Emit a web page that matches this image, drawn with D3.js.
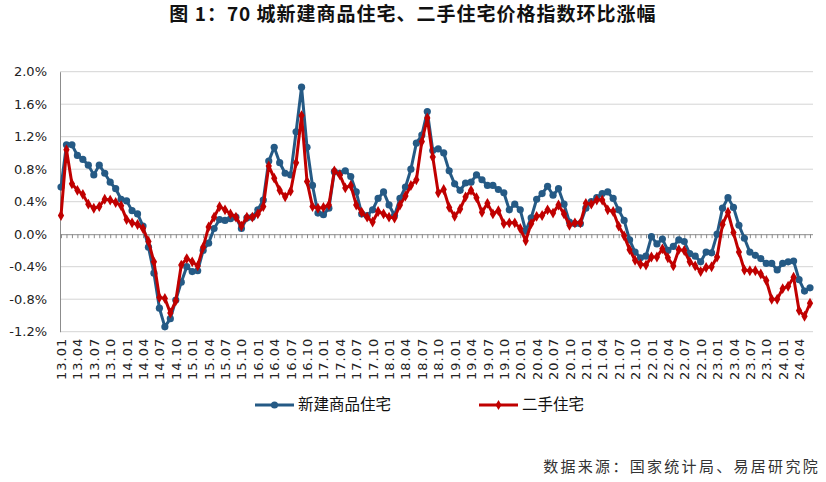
<!DOCTYPE html>
<html lang="zh">
<head>
<meta charset="UTF-8">
<title>70城新建商品住宅、二手住宅价格指数环比涨幅</title>
<script src="https://d3js.org/d3.v7.min.js"></script>
<style>
  body { margin: 0; background: #fff; }
  svg { display: block; }
</style>
</head>
<body>
<svg width="826" height="482"></svg>
<script>
// months 2013.01 - 2024.06
const months = [
  "13.01","13.02","13.03","13.04","13.05","13.06","13.07","13.08","13.09","13.10","13.11","13.12",
  "14.01","14.02","14.03","14.04","14.05","14.06","14.07","14.08","14.09","14.10","14.11","14.12",
  "15.01","15.02","15.03","15.04","15.05","15.06","15.07","15.08","15.09","15.10","15.11","15.12",
  "16.01","16.02","16.03","16.04","16.05","16.06","16.07","16.08","16.09","16.10","16.11","16.12",
  "17.01","17.02","17.03","17.04","17.05","17.06","17.07","17.08","17.09","17.10","17.11","17.12",
  "18.01","18.02","18.03","18.04","18.05","18.06","18.07","18.08","18.09","18.10","18.11","18.12",
  "19.01","19.02","19.03","19.04","19.05","19.06","19.07","19.08","19.09","19.10","19.11","19.12",
  "20.01","20.02","20.03","20.04","20.05","20.06","20.07","20.08","20.09","20.10","20.11","20.12",
  "21.01","21.02","21.03","21.04","21.05","21.06","21.07","21.08","21.09","21.10","21.11","21.12",
  "22.01","22.02","22.03","22.04","22.05","22.06","22.07","22.08","22.09","22.10","22.11","22.12",
  "23.01","23.02","23.03","23.04","23.05","23.06","23.07","23.08","23.09","23.10","23.11","23.12",
  "24.01","24.02","24.03","24.04","24.05","24.06"
];

// 新建商品住宅 环比 (%)
const newHome = [
  0.58, 1.10, 1.10, 0.97, 0.92, 0.85, 0.73, 0.85, 0.75, 0.64, 0.56, 0.43,
  0.41, 0.29, 0.25, 0.10, -0.16, -0.48, -0.91, -1.14, -1.04, -0.81, -0.59, -0.40,
  -0.46, -0.45, -0.20, -0.11, 0.07, 0.18, 0.17, 0.19, 0.21, 0.07, 0.20, 0.21,
  0.30, 0.42, 0.90, 1.07, 0.88, 0.75, 0.73, 1.26, 1.81, 1.07, 0.60, 0.26,
  0.24, 0.32, 0.77, 0.75, 0.78, 0.71, 0.52, 0.25, 0.23, 0.30, 0.44, 0.52,
  0.36, 0.23, 0.44, 0.58, 0.80, 1.12, 1.22, 1.51, 1.03, 1.05, 1.00, 0.78,
  0.62, 0.54, 0.63, 0.64, 0.73, 0.67, 0.60, 0.60, 0.55, 0.51, 0.30, 0.37,
  0.30, 0.04, 0.20, 0.43, 0.50, 0.59, 0.48, 0.56, 0.37, 0.15, 0.13, 0.13,
  0.32, 0.40, 0.45, 0.50, 0.52, 0.44, 0.30, 0.17, -0.07, -0.22, -0.29, -0.27,
  -0.03, -0.12, -0.06, -0.20, -0.15, -0.07, -0.09, -0.24, -0.27, -0.34, -0.22, -0.23,
  0.00, 0.32, 0.45, 0.33, 0.11, -0.05, -0.22, -0.26, -0.30, -0.36, -0.36, -0.44,
  -0.36, -0.34, -0.33, -0.56, -0.70, -0.66
];

// 二手住宅 环比 (%)
const usedHome = [
  0.23, 1.04, 0.62, 0.54, 0.49, 0.37, 0.32, 0.34, 0.43, 0.42, 0.39, 0.35,
  0.18, 0.14, 0.12, 0.07, -0.09, -0.34, -0.78, -0.79, -0.97, -0.82, -0.38, -0.30,
  -0.34, -0.39, -0.16, 0.09, 0.21, 0.34, 0.30, 0.25, 0.21, 0.10, 0.21, 0.21,
  0.25, 0.34, 0.84, 0.69, 0.54, 0.46, 0.53, 0.88, 1.46, 0.65, 0.34, 0.32,
  0.33, 0.36, 0.78, 0.73, 0.57, 0.60, 0.36, 0.27, 0.21, 0.15, 0.28, 0.25,
  0.21, 0.20, 0.36, 0.47, 0.60, 0.67, 1.14, 1.43, 0.95, 0.51, 0.55, 0.33,
  0.22, 0.31, 0.46, 0.54, 0.45, 0.27, 0.38, 0.25, 0.29, 0.13, 0.14, 0.14,
  0.07, -0.08, 0.13, 0.22, 0.23, 0.30, 0.26, 0.36, 0.25, 0.11, 0.14, 0.14,
  0.38, 0.37, 0.42, 0.42, 0.30, 0.28, 0.10, -0.02, -0.19, -0.32, -0.37, -0.38,
  -0.28, -0.28, -0.18, -0.29, -0.39, -0.19, -0.20, -0.34, -0.39, -0.46, -0.41, -0.40,
  -0.28, 0.12, 0.27, 0.02, -0.22, -0.44, -0.45, -0.45, -0.49, -0.57, -0.80, -0.80,
  -0.67, -0.64, -0.53, -0.94, -1.01, -0.85
];

const yTicks = [-1.2, -0.8, -0.4, 0.0, 0.4, 0.8, 1.2, 1.6, 2.0];

const blue = "#255a85", red = "#c00000";
const plotLeft = 60, plotRight = 813, plotTop = 71.7, plotBottom = 331.7;

const svg = d3.select("svg");

const x = d3.scaleLinear().domain([0, months.length - 1]).range([61, 810]);
const y = d3.scaleLinear().domain([-1.2, 2.0]).range([plotBottom, plotTop]);

// title
svg.append("text")
    .attr("x", 413).attr("y", 21)
    .attr("text-anchor", "middle")
    .attr("font-family", "'Noto Sans CJK SC'")
    .attr("font-weight", "bold")
    .attr("font-size", 19)
    .attr("letter-spacing", 1)
    .attr("fill", "#111")
    .text("图 1：70 城新建商品住宅、二手住宅价格指数环比涨幅");

// gridlines
svg.append("g").selectAll("line")
    .data(yTicks.filter(d => d !== 0))
    .enter().append("line")
    .attr("x1", plotLeft).attr("x2", plotRight)
    .attr("y1", d => y(d)).attr("y2", d => y(d))
    .attr("stroke", "#d4d4d4").attr("stroke-width", 1);

// y axis
const yAxis = svg.append("g")
    .attr("transform", `translate(${plotLeft},0)`)
    .call(d3.axisLeft(y).tickValues(yTicks).tickSize(0).tickPadding(13)
        .tickFormat(d => d.toFixed(1) + "%"));
yAxis.select(".domain").attr("stroke", "#8c8c8c");
yAxis.selectAll("text")
    .attr("font-family", "'DejaVu Sans'")
    .attr("font-size", 13)
    .attr("fill", "#222");

// zero line with monthly ticks
const zeroAxis = svg.append("g")
    .attr("transform", `translate(0,${y(0)})`)
    .call(d3.axisBottom(x).tickValues(d3.range(months.length)).tickSize(4)
        .tickSizeOuter(0).tickFormat(""));
zeroAxis.select(".domain").attr("d", `M${plotLeft},0.5H${plotRight}`).attr("stroke", "#8c8c8c");
zeroAxis.selectAll(".tick line").attr("stroke", "#8c8c8c");

// x labels below plot
const xAxis = svg.append("g")
    .attr("transform", `translate(0,${plotBottom + 6})`)
    .call(d3.axisBottom(x).tickValues(d3.range(0, months.length, 3)).tickSize(0)
        .tickFormat(i => months[i]));
xAxis.select(".domain").remove();
xAxis.selectAll("text")
    .attr("font-family", "'DejaVu Sans'")
    .attr("font-size", 13)
    .attr("letter-spacing", 1)
    .attr("fill", "#222")
    .attr("text-anchor", "end")
    .attr("transform", "rotate(-90)")
    .attr("x", 0).attr("y", 0).attr("dy", "0.35em");

// series
const line = d3.line().x((d, i) => x(i)).y(d => y(d));

svg.append("path")
    .datum(newHome)
    .attr("fill", "none").attr("stroke", blue).attr("stroke-width", 3)
    .attr("stroke-linejoin", "round")
    .attr("d", line);
svg.append("g").selectAll("circle")
    .data(newHome)
    .enter().append("circle")
    .attr("cx", (d, i) => x(i)).attr("cy", d => y(d))
    .attr("r", 3.6).attr("fill", blue);

svg.append("path")
    .datum(usedHome)
    .attr("fill", "none").attr("stroke", red).attr("stroke-width", 3)
    .attr("stroke-linejoin", "round")
    .attr("d", line);
svg.append("g").selectAll("path")
    .data(usedHome)
    .enter().append("path")
    .attr("transform", (d, i) => `translate(${x(i)},${y(d)})`)
    .attr("d", d3.symbol(d3.symbolDiamond, 34))
    .attr("fill", red);

// legend
const legend = [
  { name: "新建商品住宅", color: blue, x: 255, sym: "circle" },
  { name: "二手住宅", color: red, x: 479, sym: "diamond" }
];
const lg = svg.append("g").selectAll("g")
    .data(legend)
    .enter().append("g")
    .attr("transform", d => `translate(${d.x},405)`);
lg.append("line")
    .attr("x1", 0).attr("x2", 39).attr("y1", 0).attr("y2", 0)
    .attr("stroke", d => d.color).attr("stroke-width", 3);
lg.append("path")
    .attr("transform", "translate(19.5,0)")
    .attr("d", d => d.sym === "circle"
        ? d3.symbol(d3.symbolCircle, 40)()
        : d3.symbol(d3.symbolDiamond, 30)())
    .attr("fill", d => d.color);
lg.append("text")
    .attr("x", 43).attr("y", 0).attr("dy", "0.35em")
    .attr("font-family", "'Noto Sans CJK SC'")
    .attr("font-size", 15.5)
    .attr("fill", "#111")
    .text(d => d.name);

// source note
svg.append("text")
    .attr("x", 820).attr("y", 472)
    .attr("text-anchor", "end")
    .attr("font-family", "'Noto Sans CJK SC'")
    .attr("font-size", 15)
    .attr("letter-spacing", 2.3)
    .attr("fill", "#333")
    .text("数据来源：国家统计局、易居研究院");
</script>
</body>
</html>
